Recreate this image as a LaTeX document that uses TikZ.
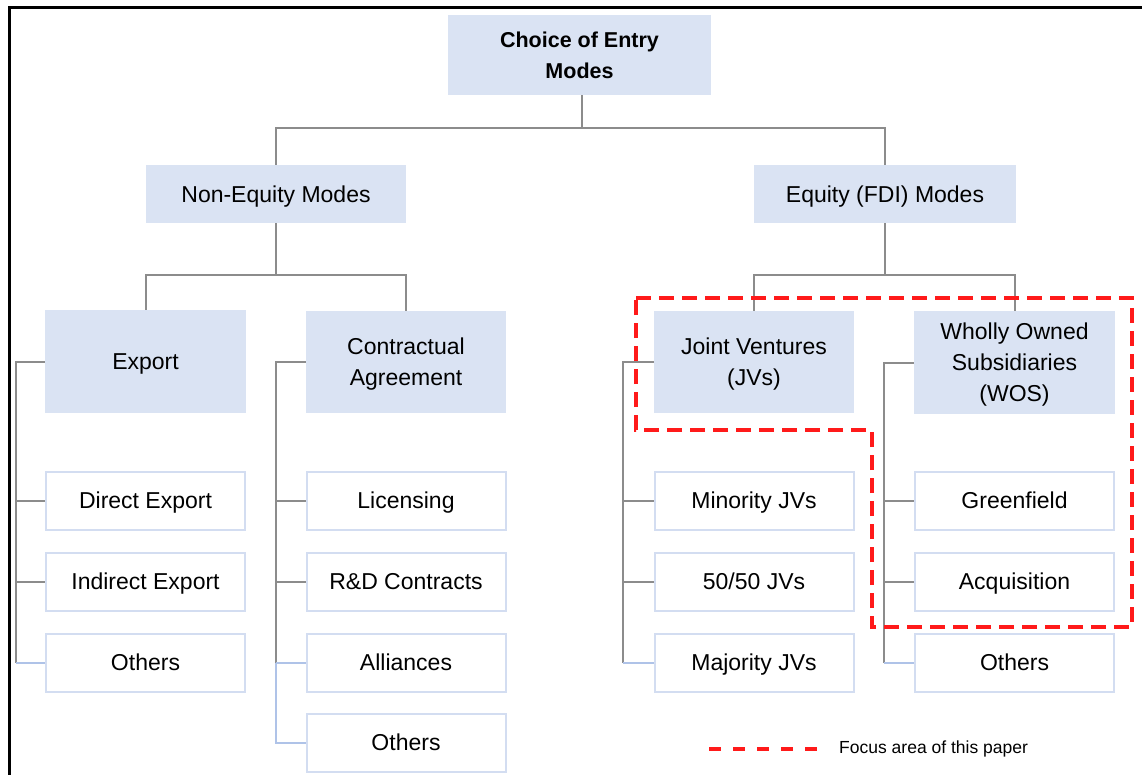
\documentclass[tikz,border=0pt]{standalone}
\usepackage{fontspec}
\setmainfont{Liberation Sans}
\definecolor{boxfill}{HTML}{DAE3F3}
\definecolor{boxline}{HTML}{D3DDF1}
\definecolor{conngray}{HTML}{8C8C8C}
\definecolor{connblue}{HTML}{AFC3E8}
\definecolor{focusred}{HTML}{FF1A1A}
\tikzset{
  headbox/.style={rectangle, fill=boxfill, draw=none, inner sep=2pt, align=center,
    text depth=-1pt, font=\fontsize{23}{31}\selectfont},
  leafbox/.style={rectangle, fill=white, draw=boxline, line width=2pt, inner sep=2pt,
    minimum width=199, minimum height=58, align=center, text depth=-1pt,
    font=\fontsize{23}{31}\selectfont},
  conn/.style={draw=conngray, line width=2pt},
  connb/.style={draw=connblue, line width=2pt},
  focus/.style={draw=focusred, line width=3.2pt, dash pattern=on 15pt off 8pt, line join=miter},
}
\begin{document}
\begin{tikzpicture}[x=1pt, y=-1pt]
\useasboundingbox (0,0) rectangle (1142,775);
\fill[white] (0,0) rectangle (1142,775);
% frame
\draw[line width=3pt, line join=miter] (9,790) -- (9,7.5) -- (1160,7.5);

% head nodes
\node[headbox, minimum width=263, minimum height=80, font=\fontsize{21.5}{31}\selectfont\bfseries] (root) at (579.5,55) {Choice of Entry\\Modes};
\node[headbox, minimum width=260, minimum height=58] (noneq) at (276,194) {Non-Equity Modes};
\node[headbox, minimum width=262, minimum height=58] (equity) at (885,194) {Equity (FDI) Modes};
\node[headbox, minimum width=201, minimum height=103] (export) at (145.5,361.5) {Export};
\node[headbox, minimum width=200, minimum height=102] (contract) at (406,362) {Contractual\\Agreement};
\node[headbox, minimum width=200, minimum height=102] (jv) at (754,362) {Joint Ventures\\(JVs)};
\node[headbox, minimum width=201, minimum height=103] (wos) at (1014.5,362.5) {Wholly Owned\\Subsidiaries\\(WOS)};

% leaves
\node[leafbox] (de) at (145.5,500.5) {Direct Export};
\node[leafbox] (ie) at (145.5,581.5) {Indirect Export};
\node[leafbox] (eo) at (145.5,662.5) {Others};
\node[leafbox] (lic) at (406,500.5) {Licensing};
\node[leafbox] (rd) at (406,581.5) {R\&D Contracts};
\node[leafbox] (al) at (406,662.5) {Alliances};
\node[leafbox] (co) at (406,742.5) {Others};
\node[leafbox] (min) at (754,500.5) {Minority JVs};
\node[leafbox] (ff) at (754,581.5) {50/50 JVs};
\node[leafbox] (maj) at (754,662.5) {Majority JVs};
\node[leafbox] (gf) at (1014.5,500.5) {Greenfield};
\node[leafbox] (acq) at (1014.5,581.5) {Acquisition};
\node[leafbox] (wo) at (1014.5,662.5) {Others};

% tree connectors
\path (root.south) ++(2,33) coordinate (b1);
\draw[conn] (root.south -| b1) -- (b1);
\draw[conn] (noneq.north) |- (b1);
\draw[conn] (equity.north) |- (b1);
\path (noneq.south) ++(0,52) coordinate (b2);
\draw[conn] (noneq.south) -- (b2);
\draw[conn] (export.north) |- (b2);
\draw[conn] (contract.north) |- (b2);
\path (equity.south) ++(0,52) coordinate (b3);
\draw[conn] (equity.south) -- (b3);
\draw[conn] (jv.north) |- (b3);
\draw[conn] (wos.north) |- (b3);

% side spines
\coordinate (sx1) at (16,0);
\coordinate (sx2) at (276,0);
\coordinate (sx3) at (623,0);
\coordinate (sx4) at (884,0);

\draw[conn] (export.west) -- (export.west -| sx1) -- (eo.west -| sx1);
\draw[conn] (de.west -| sx1) -- (de.west);
\draw[conn] (ie.west -| sx1) -- (ie.west);
\draw[connb] (eo.west -| sx1) -- (eo.west);

\draw[conn] (contract.west) -- (contract.west -| sx2) -- (al.west -| sx2);
\draw[conn] (lic.west -| sx2) -- (lic.west);
\draw[conn] (rd.west -| sx2) -- (rd.west);
\draw[connb] (al.west -| sx2) -- (al.west);
\draw[connb] (al.west -| sx2) -- (co.west -| sx2) -- (co.west);

\draw[conn] (jv.west) -- (jv.west -| sx3) -- (maj.west -| sx3);
\draw[conn] (min.west -| sx3) -- (min.west);
\draw[conn] (ff.west -| sx3) -- (ff.west);
\draw[connb] (maj.west -| sx3) -- (maj.west);

\draw[conn] (wos.west) -- (wos.west -| sx4) -- (wo.west -| sx4);
\draw[conn] (gf.west -| sx4) -- (gf.west);
\draw[conn] (acq.west -| sx4) -- (acq.west);
\draw[connb] (wo.west -| sx4) -- (wo.west);

% focus area
\draw[focus] (636,298) -- (1132,298) -- (1132,627) -- (872,627) -- (872,430) -- (636,430) -- cycle;

% legend
\coordinate (l1) at (709,749);
\coordinate (l2) at (820,749);
\draw[focus, dash pattern=on 12pt off 12pt] (l1) -- (l2);
\node[anchor=west, inner sep=0pt, font=\fontsize{17.5}{20}\selectfont] (legtext) at (839,749) {Focus area of this paper};
\end{tikzpicture}
\end{document}
